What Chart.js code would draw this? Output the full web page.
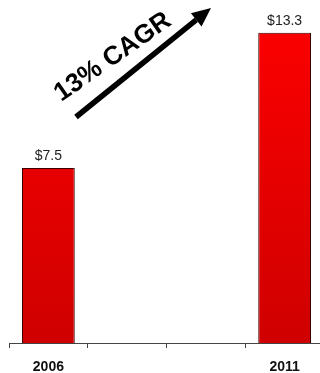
<!DOCTYPE html>
<html>
<head>
<meta charset="utf-8">
<script src="https://cdn.jsdelivr.net/npm/chart.js@4/dist/chart.umd.min.js"></script>
<style>
  html, body { margin: 0; padding: 0; background: #fff; overflow: hidden; }
  #wrap { width: 326px; height: 373px; }
</style>
</head>
<body>
<div id="wrap"><canvas id="cagr-chart" width="326" height="373"></canvas></div>
<script>
// Market size by year (USD), empty slots keep the gap between the two years
const years = ['2006', '', '', '2011'];
const values = [7.5, null, null, 13.3];
const growthLabel = '13% CAGR';

const FONT = '"Liberation Sans", Arial, sans-serif';

// Vertical red gradient for the bars
function barGradient(ctx) {
  const area = ctx.chart.chartArea;
  if (!area) return '#f00';
  const g = ctx.chart.ctx.createLinearGradient(0, area.top, 0, area.bottom);
  g.addColorStop(0, '#ff0000');
  g.addColorStop(1, '#cf0000');
  return g;
}

// Dollar labels above each bar
const valueLabels = {
  id: 'valueLabels',
  afterDatasetsDraw(chart) {
    const { ctx } = chart;
    const meta = chart.getDatasetMeta(0);
    ctx.save();
    ctx.font = '14px ' + FONT;
    ctx.fillStyle = '#222';
    ctx.textAlign = 'center';
    ctx.textBaseline = 'alphabetic';
    meta.data.forEach((bar, i) => {
      if (values[i] == null) return;
      ctx.fillText('$' + values[i].toFixed(1), bar.x, bar.y - 8);
    });
    ctx.restore();
  }
};

// Growth arrow with rotated caption
const growthArrow = {
  id: 'growthArrow',
  afterDraw(chart) {
    const { ctx } = chart;
    const x0 = 76, y0 = 117, x1 = 211, y1 = 8;
    const ang = Math.atan2(y1 - y0, x1 - x0);
    const head = 19, half = 8.5;
    const bx = x1 - head * Math.cos(ang), by = y1 - head * Math.sin(ang);

    ctx.save();
    ctx.strokeStyle = '#000';
    ctx.fillStyle = '#000';
    ctx.lineWidth = 5.5;
    ctx.beginPath();
    ctx.moveTo(x0, y0);
    ctx.lineTo(bx, by);
    ctx.stroke();

    ctx.beginPath();
    ctx.moveTo(x1, y1);
    ctx.lineTo(bx + half * Math.sin(ang), by - half * Math.cos(ang));
    ctx.lineTo(bx - half * Math.sin(ang), by + half * Math.cos(ang));
    ctx.closePath();
    ctx.fill();

    ctx.translate(117, 63);
    ctx.rotate(-35 * Math.PI / 180);
    ctx.font = 'bold 26px ' + FONT;
    ctx.textAlign = 'center';
    ctx.textBaseline = 'alphabetic';
    ctx.fillText(growthLabel, 0, 0);
    ctx.restore();
  }
};

new Chart(document.getElementById('cagr-chart'), {
  type: 'bar',
  data: {
    labels: years,
    datasets: [{
      data: values,
      backgroundColor: barGradient,
      borderColor: '#3a0000',
      borderWidth: 1,
      borderSkipped: 'bottom',
      barPercentage: 0.67,
      categoryPercentage: 1
    }]
  },
  options: {
    responsive: false,
    animation: false,
    layout: { padding: { left: 9, right: 2, top: 0, bottom: 0 } },
    plugins: {
      legend: { display: false },
      tooltip: { enabled: false }
    },
    scales: {
      x: {
        offset: true,
        afterFit(scale) { scale.height = 30; },
        grid: {
          offset: true,
          drawOnChartArea: false,
          drawTicks: true,
          tickLength: 5,
          color: '#444'
        },
        border: { color: '#444', width: 1 },
        ticks: {
          color: '#111',
          padding: 11,
          font: { family: FONT, size: 14, weight: 'bold' }
        }
      },
      y: {
        display: false,
        min: 0,
        max: 14.7
      }
    }
  },
  plugins: [valueLabels, growthArrow]
});
</script>
</body>
</html>
